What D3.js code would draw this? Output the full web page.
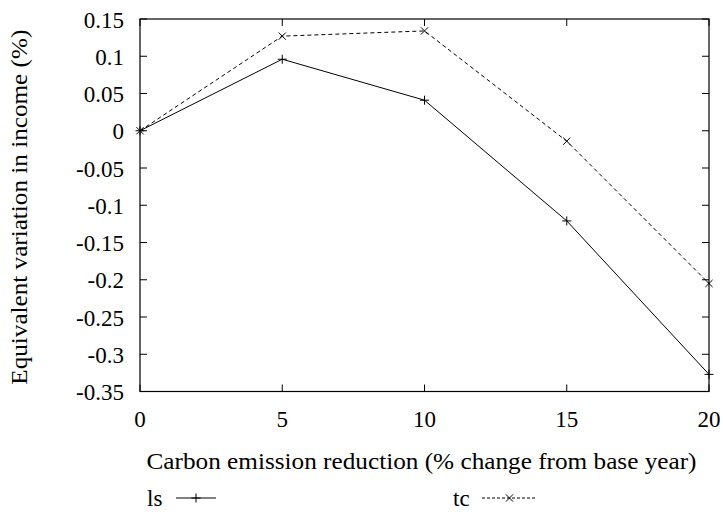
<!DOCTYPE html>
<html><head><meta charset="utf-8">
<script src="https://cdn.jsdelivr.net/npm/d3@7"></script>
<style>body{margin:0;background:#fff}</style>
</head><body><svg id="c" width="723" height="517" font-family="'Liberation Serif', 'DejaVu Serif', serif" font-size="23"></svg>
<script>
const xValues=[0,5,10,15,20];
const lsValues=[0,0.096,0.041,-0.121,-0.327];
const tcValues=[0,0.127,0.134,-0.014,-0.205];
const seriesNames=["ls","tc"];
const yTicks=[0.15,0.1,0.05,0,-0.05,-0.1,-0.15,-0.2,-0.25,-0.3,-0.35];
const xTicks=[0,5,10,15,20];

const svg=d3.select("#c");
const L=140,R=709,T=19,B=391.5;
const x=d3.scaleLinear().domain([0,20]).range([L,R]);
const y=d3.scaleLinear().domain([-0.35,0.15]).range([B,T]);
const tk=7;
const g=svg.append("g");
const fmt=v=>String(v);
xTicks.forEach(v=>{
  g.append("line").attr("x1",x(v)).attr("x2",x(v)).attr("y1",B).attr("y2",B-tk).attr("stroke","#000");
  g.append("line").attr("x1",x(v)).attr("x2",x(v)).attr("y1",T).attr("y2",T+tk).attr("stroke","#000");
  g.append("text").attr("x",x(v)).attr("y",B+35.5).attr("text-anchor","middle").text(fmt(v));
});
yTicks.forEach(v=>{
  g.append("line").attr("x1",L).attr("x2",L+tk).attr("y1",y(v)).attr("y2",y(v)).attr("stroke","#000");
  g.append("line").attr("x1",R).attr("x2",R-tk).attr("y1",y(v)).attr("y2",y(v)).attr("stroke","#000");
  g.append("text").attr("x",L-16).attr("y",y(v)+8.5).attr("text-anchor","end").text(fmt(v));
});
g.append("rect").attr("x",L).attr("y",T).attr("width",R-L).attr("height",B-T).attr("fill","none").attr("stroke","#000").attr("stroke-width",1.2);

svg.append("text").attr("x",(L+R)/2-3).attr("y",B+77).attr("text-anchor","middle").attr("textLength",550).attr("lengthAdjust","spacingAndGlyphs").text("Carbon emission reduction (% change from base year)");
svg.append("text").attr("transform",`translate(27,${(T+B)/2+2}) rotate(-90)`).attr("text-anchor","middle").attr("textLength",355).attr("lengthAdjust","spacingAndGlyphs").text("Equivalent variation in income (%)");

const line=d3.line().x((d,i)=>x(xValues[i])).y(d=>y(d));
const ms=4.5;
function plus(sel,cx,cy){sel.append("path").attr("d",`M${cx-ms},${cy}H${cx+ms}M${cx},${cy-ms}V${cy+ms}`).attr("stroke","#000").attr("fill","none");}
function cross(sel,cx,cy){const s=ms*0.8;sel.append("path").attr("d",`M${cx-s},${cy-s}L${cx+s},${cy+s}M${cx-s},${cy+s}L${cx+s},${cy-s}`).attr("stroke","#000").attr("fill","none");}

svg.append("path").datum(lsValues).attr("d",line).attr("fill","none").attr("stroke","#000").attr("stroke-width",1);
svg.append("path").datum(tcValues).attr("d",line).attr("fill","none").attr("stroke","#000").attr("stroke-width",1).attr("stroke-dasharray","4,3");
lsValues.forEach((v,i)=>plus(svg,x(xValues[i]),y(v)));
tcValues.forEach((v,i)=>cross(svg,x(xValues[i]),y(v)));

const ly=498;
svg.append("text").attr("x",147).attr("y",ly+8).text(seriesNames[0]);
svg.append("line").attr("x1",176).attr("x2",216).attr("y1",ly).attr("y2",ly).attr("stroke","#000");
plus(svg,196,ly);
svg.append("text").attr("x",453).attr("y",ly+8).text(seriesNames[1]);
svg.append("line").attr("x1",482).attr("x2",537).attr("y1",ly).attr("y2",ly).attr("stroke","#000").attr("stroke-dasharray","3,2");
cross(svg,509.5,ly);
</script></body></html>
